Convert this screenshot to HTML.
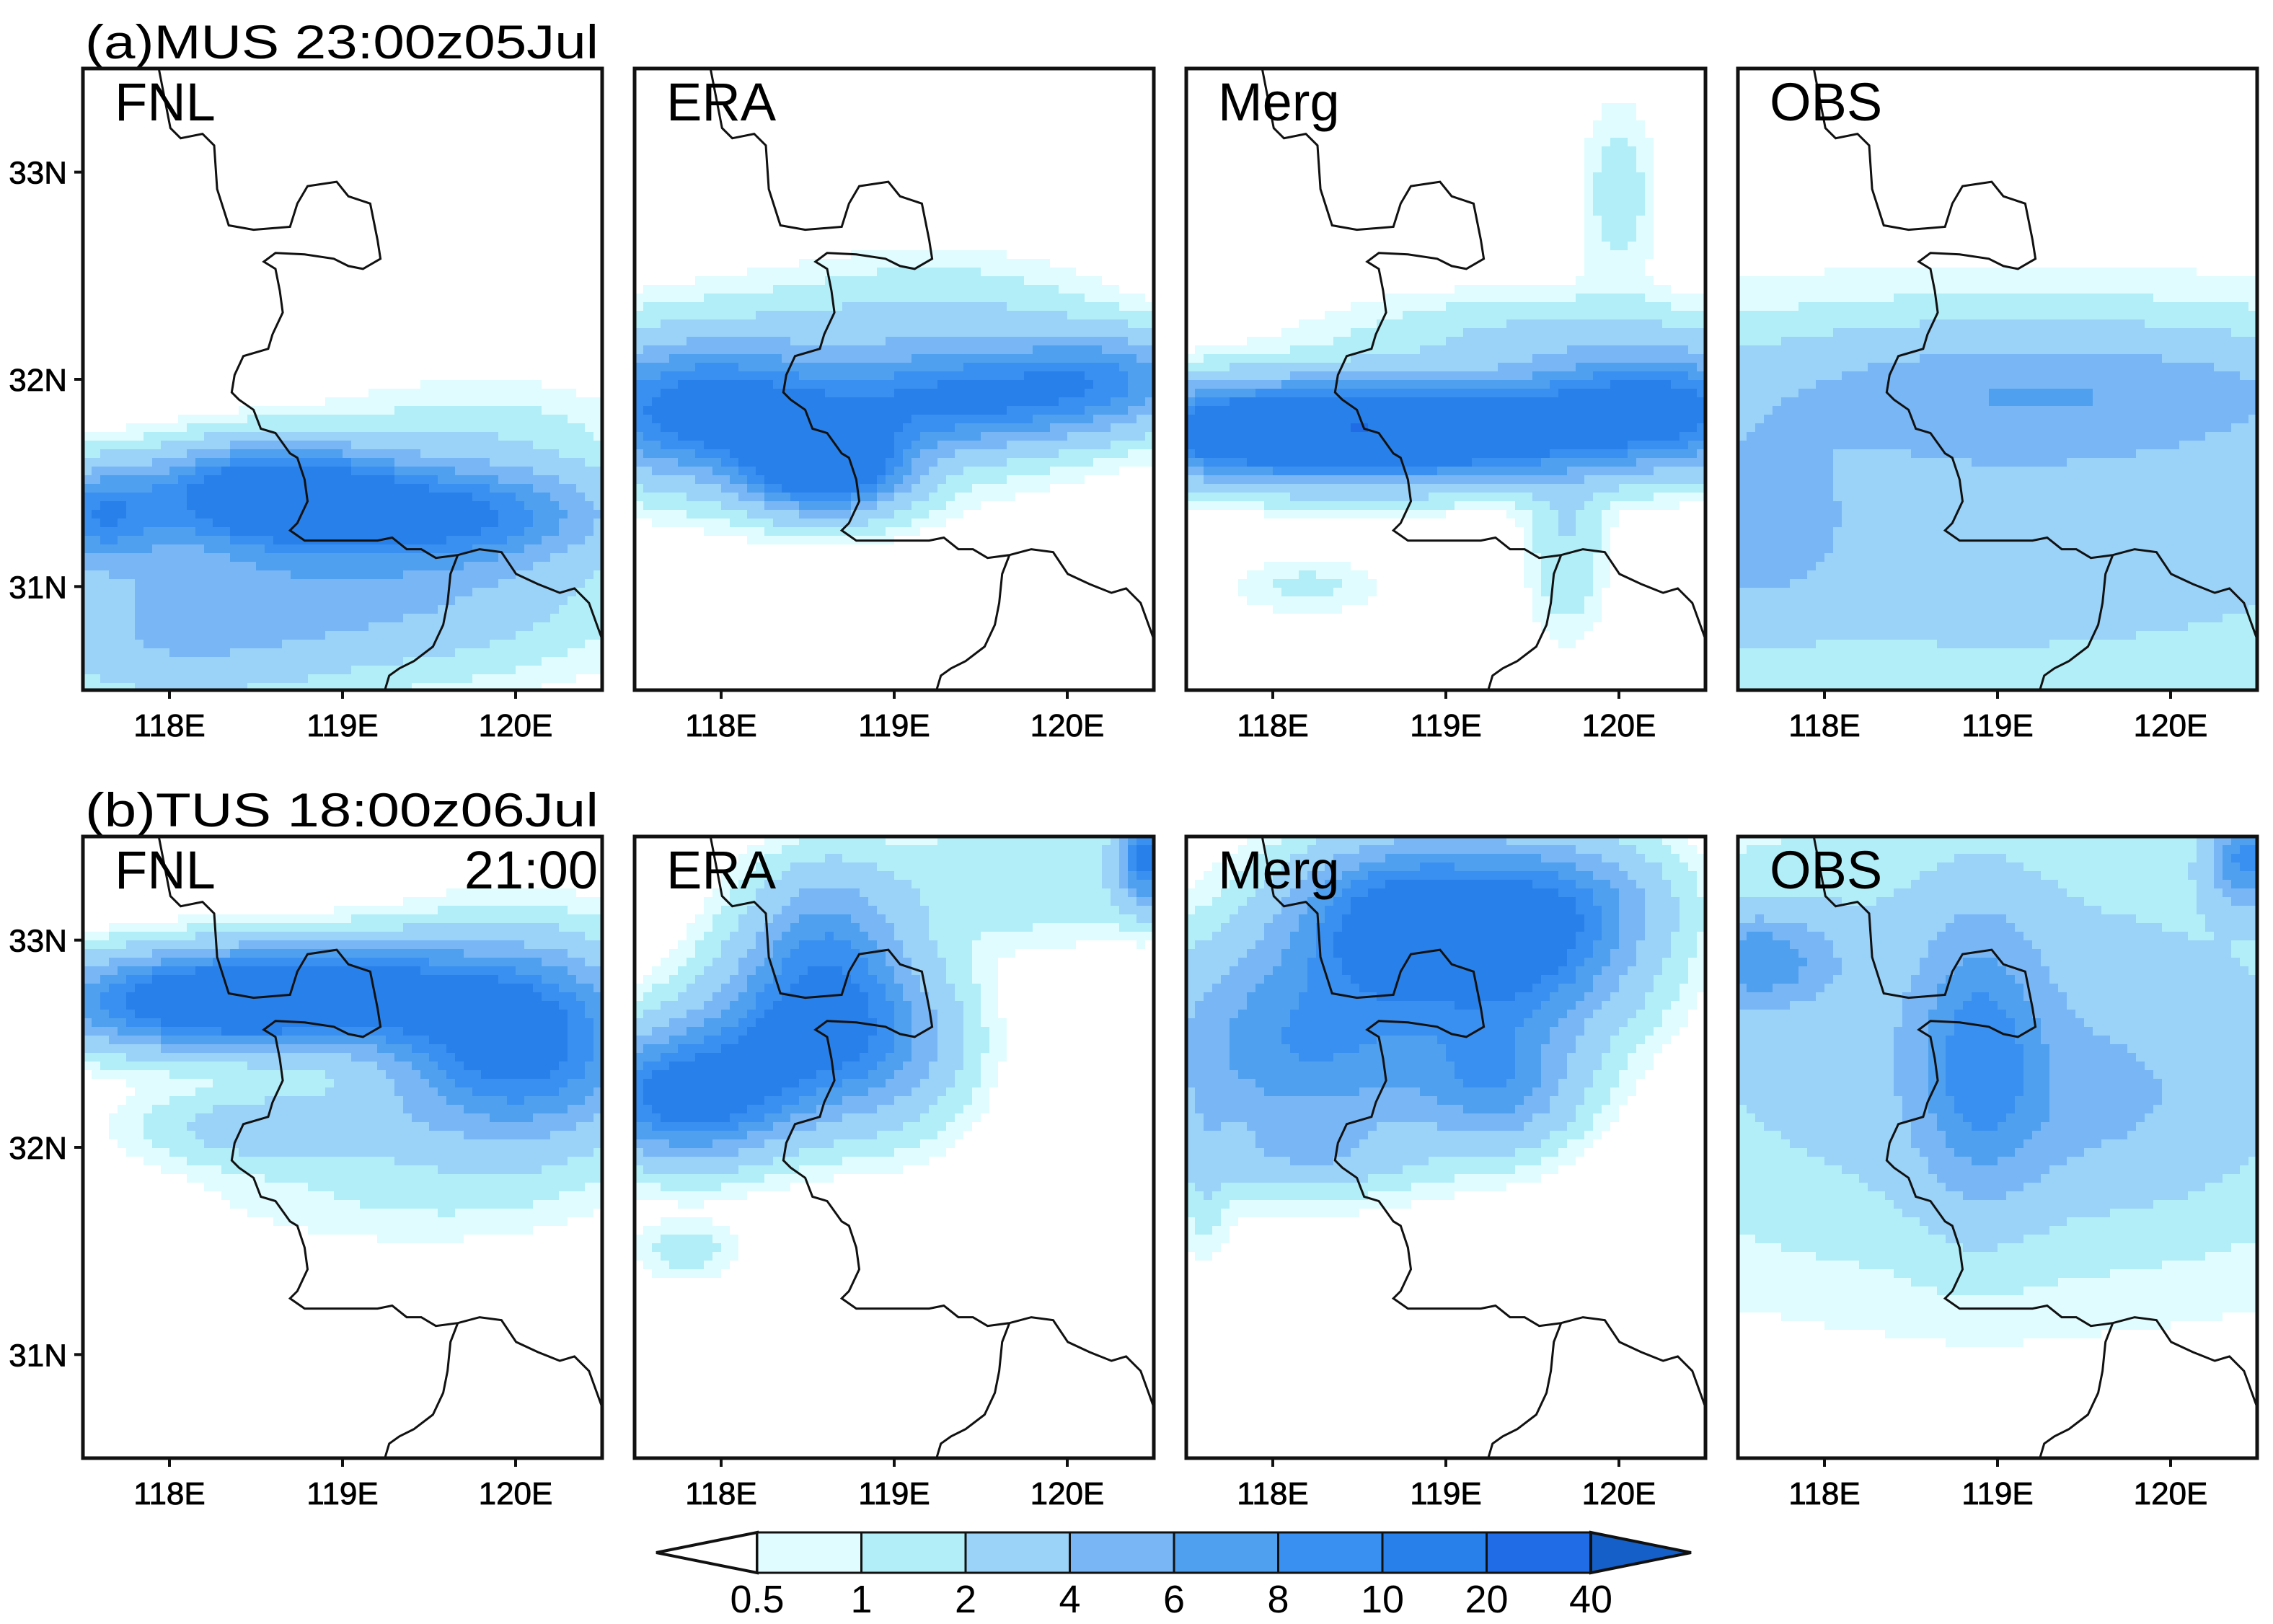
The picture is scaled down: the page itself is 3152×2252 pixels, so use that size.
<!DOCTYPE html>
<html><head><meta charset="utf-8">
<style>
html,body{margin:0;padding:0;background:#fff;}
body{width:3152px;height:2252px;position:relative;overflow:hidden;font-family:"Liberation Sans",sans-serif;}
</style></head>
<body>
<svg id="fig" width="3152" height="2252" style="position:absolute;left:0;top:0"></svg>
<script>
// ---- data ----
const levels = [0.5,1,2,4,6,8,10,20,40];
const levelColors = ['#ffffff','#e0fcfe','#b2eef8','#9ad2f8','#78b6f6','#4fa0ee','#3a90f0','#2880ea','#1f6ce6','#1460c8'];
const lonTicks = [118,119,120];
const lonTickLabels = ['118E','119E','120E'];
const latTicks = [33,32,31];
const latTickLabels = ['33N','32N','31N'];
const panelNames = ['FNL','ERA','Merg','OBS'];
const rowTitles = ['(a)MUS 23:00z05Jul','(b)TUS  18:00z06Jul'];
// rain blobs: [lon, lat, sigmaLon, sigmaLat, amplitude mm]
const blobsA_FNL = [[118.6,31.45,0.45,0.15,14],[117.6,31.35,0.25,0.15,8],[119.6,31.35,0.6,0.15,9],[118.5,31.05,0.9,0.28,3.5],[119.5,31.0,0.8,0.28,2.5],[119.8,31.7,0.6,0.2,1.5],[118.0,30.7,0.6,0.2,2.5]];
const blobsA_ERA = [[117.9,31.85,0.5,0.2,10],[118.6,31.6,0.3,0.15,15],[119.4,31.9,0.5,0.15,8],[120.2,32.0,0.4,0.15,7],[119.3,32.3,0.6,0.2,1.5],[118.5,31.9,1.0,0.3,3]];
const blobsA_Merg = [[118.0,31.75,0.7,0.15,15],[119.0,31.75,0.6,0.15,12],[120.2,31.85,0.5,0.18,12],[119.5,32.2,0.8,0.15,2],[120.0,32.9,0.15,0.3,1.5],[119.7,31.2,0.15,0.3,2],[118.2,31.0,0.3,0.1,1.2]];
const blobsA_OBS = [[119.0,31.35,2.0,0.6,3.5],[119.3,31.95,1.2,0.2,4],[117.6,31.3,0.3,0.3,3]];
const blobsB_FNL = [[118.2,32.7,0.6,0.15,12],[119.0,32.75,0.6,0.15,10],[120.0,32.5,0.5,0.3,12],[118.6,32.1,0.5,0.12,3],[119.3,31.8,0.8,0.2,1]];
const blobsB_ERA = [[117.8,32.25,0.4,0.2,12],[118.5,32.55,0.4,0.25,10],[118.6,33.0,0.3,0.25,6],[119.0,32.5,0.3,0.3,3],[119.8,33.3,0.6,0.2,2],[120.45,33.4,0.1,0.15,10],[117.8,31.5,0.2,0.1,1.5]];
const blobsB_Merg = [[118.2,32.5,0.6,0.35,8],[118.7,33.1,0.4,0.25,10],[119.4,32.95,0.45,0.3,10],[119.3,32.3,0.3,0.2,6],[119.7,33.2,0.4,0.2,4],[118.2,31.95,0.4,0.1,2],[117.6,31.9,0.1,0.3,1.5]];
const blobsB_OBS = [[119.0,32.5,1.8,0.75,3],[118.9,32.45,0.25,0.45,6],[117.6,32.9,0.3,0.15,6],[120.45,33.4,0.15,0.15,8],[119.5,32.2,0.6,0.3,2]];
// boundary traced in reference display units (panel 356x428)
const boundaryMain = [[110,47],[118,88],[125,95],[140,92],[148,100],[150,130],[158,155],[175,158],[200,156],[205,140],[212,128],[232,125],[240,135],[255,140],[260,165],[262,178],[250,185],[240,183],[230,178],[210,175],[190,174],[182,180],[190,185],[193,200],[195,215],[188,230],[185,240],[168,245],[162,258],[160,270],[165,275],[175,282],[180,295],[190,298],[195,305],[200,312],[205,315],[210,330],[212,345],[205,360],[200,365],[210,372],[235,372],[260,372],[270,370],[280,378],[290,378],[300,384],[315,382],[330,378],[345,380],[355,395],[370,402],[385,408],[395,405],[405,415],[414,440]];
const boundaryBranch = [[315,382],[310,395],[308,415],[305,430],[298,445],[285,455],[275,460],[268,465],[265,475]];

// ---- layout ----
const NS='http://www.w3.org/2000/svg';
const svg=document.getElementById('fig');
const PW=720, PH=862, colX=[115,880,1645,2410], rowY=[95,1160];
const lonMin=117.5, lonMax=120.5, latMin=30.5, latMax=33.5;
function mk(tag,attrs,parent){const e=document.createElementNS(NS,tag);for(const k in attrs)e.setAttribute(k,attrs[k]);(parent||svg).appendChild(e);return e;}
function colorFor(v){let i=0;while(i<levels.length&&v>=levels[i])i++;return levelColors[i];}
const allBlobs=[[blobsA_FNL,blobsA_ERA,blobsA_Merg,blobsA_OBS],[blobsB_FNL,blobsB_ERA,blobsB_Merg,blobsB_OBS]];
for(let r=0;r<2;r++){
  const t=mk('text',{x:118,y:rowY[r]-14,'font-size':66,'font-family':'Liberation Sans, sans-serif',textLength:712,lengthAdjust:'spacingAndGlyphs'});
  t.textContent=rowTitles[r];
  
  
  for(let c=0;c<4;c++){
    const x0=colX[c], y0=rowY[r];
    const sx=lon=>x0+(lon-lonMin)/(lonMax-lonMin)*PW;
    const sy=lat=>y0+(latMax-lat)/(latMax-latMin)*PH;
    const g=mk('g',{});
    
    
    const cid='clip'+r+c;
    const cp=mk('clipPath',{id:cid},g);
    mk('rect',{x:x0,y:y0,width:PW,height:PH},cp);
    const field=mk('g',{'clip-path':'url(#'+cid+')','shape-rendering':'crispEdges'},g);
    
    
    const blobs=allBlobs[r][c];
    const cell=12;
    for(let py=0;py<PH;py+=cell){
      let runStart=0,runCol=null;
      for(let px=0;px<=PW;px+=cell){
        let col='#ffffff';
        if(px<PW){
          const lon=lonMin+(px+cell/2)/PW*(lonMax-lonMin);
          const lat=latMax-(py+cell/2)/PH*(latMax-latMin);
          let v=0;
          for(const b of blobs){const dx=(lon-b[0])/b[2],dy=(lat-b[1])/b[3];v+=b[4]*Math.exp(-0.5*(dx*dx+dy*dy));}
          col=colorFor(v);
        }
        if(col!==runCol||px>=PW){
          if(runCol&&runCol!=='#ffffff'){
            const rc=mk('rect',{x:x0+runStart,y:y0+py,width:px-runStart,height:cell,fill:runCol},field);
            
            
          }
          runStart=px;runCol=col;
        }
      }
    }
    const toPt=p=>[(x0+(p[0]-58)*PW/356).toFixed(1),(y0+(p[1]-47)*PH/428).toFixed(1)].join(',');
    for(const [nm,line] of [['province-boundary',boundaryMain],['province-boundary-branch',boundaryBranch]]){
      const pl=mk('polyline',{points:line.map(toPt).join(' '),fill:'none',stroke:'#111','stroke-width':3,'clip-path':'url(#'+cid+')'},g);
      
      
    }
    const fr=mk('rect',{x:x0,y:y0,width:PW,height:PH,fill:'none',stroke:'#111','stroke-width':5},g);
    
    
    lonTicks.forEach((lon,i)=>{
      mk('line',{x1:sx(lon),x2:sx(lon),y1:y0+PH,y2:y0+PH+12,stroke:'#111','stroke-width':4},g);
      const tl=mk('text',{x:sx(lon),y:y0+PH+64,'font-size':44,'text-anchor':'middle','font-family':'Liberation Sans, sans-serif','stroke':'#000','stroke-width':0.8},g);
      tl.textContent=lonTickLabels[i];
      
      
    });
    if(c===0){
      latTicks.forEach((lat,i)=>{
        mk('line',{x1:x0-12,x2:x0,y1:sy(lat),y2:sy(lat),stroke:'#111','stroke-width':4},g);
        const tl=mk('text',{x:x0-22,y:sy(lat)+16,'font-size':44,'text-anchor':'end','font-family':'Liberation Sans, sans-serif','stroke':'#000','stroke-width':0.8},g);
        tl.textContent=latTickLabels[i];
        
        
      });
    }
    const nl=mk('text',{x:x0+44,y:y0+72,'font-size':74,'font-family':'Liberation Sans, sans-serif'},g);
    nl.textContent=panelNames[c];
    
    
    if(r===1&&c===0){
      const tt=mk('text',{x:x0+PW-6,y:y0+72,'font-size':74,'text-anchor':'end','font-family':'Liberation Sans, sans-serif'},g);
      tt.textContent='21:00';
      
      
    }
  }
}
// colorbar
const cb=mk('g',{});


const cbL=1050, cbR=2206, cbT=2125, cbB=2181, cbMid=(cbT+cbB)/2;
const boxW=(cbR-cbL)/(levels.length-1);
mk('polygon',{points:`${cbL},${cbT} 910,${cbMid} ${cbL},${cbB}`,fill:levelColors[0],stroke:'#111','stroke-width':4},cb);
for(let i=0;i<levels.length-1;i++){
  const rc=mk('rect',{x:cbL+i*boxW,y:cbT,width:boxW,height:cbB-cbT,fill:levelColors[i+1],stroke:'#111','stroke-width':3},cb);
  
  
}
mk('polygon',{points:`${cbR},${cbT} 2345,${cbMid} ${cbR},${cbB}`,fill:levelColors[levels.length],stroke:'#111','stroke-width':4},cb);
levels.forEach((lv,i)=>{
  const tl=mk('text',{x:cbL+i*boxW,y:2236,'font-size':54,'text-anchor':'middle','font-family':'Liberation Sans, sans-serif'},cb);
  tl.textContent=String(lv);
  
  
});
</script>
</body></html>
